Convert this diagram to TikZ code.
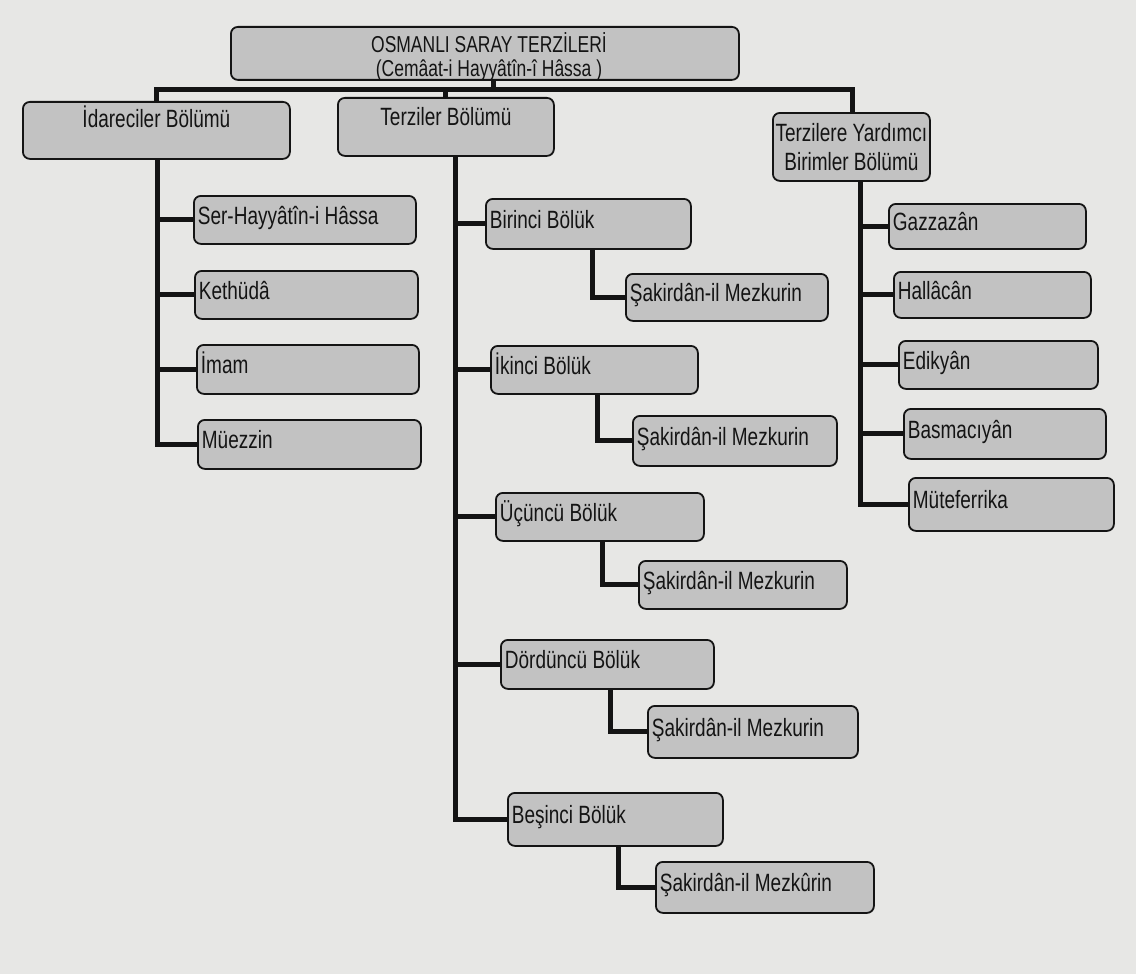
\documentclass[tikz,border=0pt]{standalone}
\usepackage{fontspec}
\setmainfont{Liberation Sans}[FakeStretch=0.76]
\definecolor{pagebg}{RGB}{231,231,229}
\definecolor{boxfill}{RGB}{194,194,194}
\definecolor{inkc}{RGB}{20,20,20}
\begin{document}
\begin{tikzpicture}[x=1pt,y=-1pt,
  execute at begin node={\spaceskip=0.21em\relax},
  conn/.style={line width=5pt, line join=miter, draw=inkc},
  box/.style={draw=inkc, line width=1.8pt, rounded corners=7pt, fill=boxfill, text=inkc,
    font=\fontsize{25}{29}\selectfont, inner sep=0pt, anchor=north west},
  leaf/.style={box, inner xsep=4pt, align=left, text height=18pt, text depth=9pt},
  head/.style={box, align=center}]
\fill[pagebg] (0,0) rectangle (1136,974);
\useasboundingbox (0,0) rectangle (1136,974);

% top
\node[box, minimum width=508pt, minimum height=53pt] (top) at (230,26) {};
\node[text=inkc, font=\fontsize{23}{24}\selectfont, align=center, inner sep=0pt] (toptxt) at (489,57)
  {OSMANLI SARAY TERZİLERİ\\(Cemâat-i Hayyâtîn-î Hâssa )};

% departments
\node[head, minimum width=267pt, minimum height=57pt, text height=8pt, text depth=14pt] (idr) at (22,101) {İdareciler Bölümü};
\node[head, minimum width=216pt, minimum height=58pt, text height=9pt, text depth=12pt] (ter) at (337,97) {Terziler Bölümü};
\node[head, minimum width=157pt, minimum height=68pt, font=\fontsize{25}{29}\selectfont] (tyb) at (772,112) {Terzilere Yardımcı\\Birimler Bölümü};

% left column
\node[leaf, text width=214pt, minimum height=48pt] (ser)  at (193,195) {Ser-Hayyâtîn-i Hâssa};
\node[leaf, text width=215pt, minimum height=48pt] (keth) at (194,270) {Kethüdâ};
\node[leaf, text width=214pt, minimum height=49pt] (imam) at (196,344) {İmam};
\node[leaf, text width=215pt, minimum height=49pt] (muez) at (197,419) {Müezzin};

% middle column
\node[leaf, text width=197pt, minimum height=50pt] (b1) at (485,198) {Birinci Bölük};
\node[leaf, text width=194pt, minimum height=47pt] (s1) at (625,273) {Şakirdân-il Mezkurin};
\node[leaf, text width=199pt, minimum height=48pt] (b2) at (490,345) {İkinci Bölük};
\node[leaf, text width=196pt, minimum height=50pt] (s2) at (632,415) {Şakirdân-il Mezkurin};
\node[leaf, text width=200pt, minimum height=48pt] (b3) at (495,492) {Üçüncü Bölük};
\node[leaf, text width=200pt, minimum height=48pt] (s3) at (638,560) {Şakirdân-il Mezkurin};
\node[leaf, text width=205pt, minimum height=49pt] (b4) at (500,639) {Dördüncü Bölük};
\node[leaf, text width=202pt, minimum height=52pt] (s4) at (647,705) {Şakirdân-il Mezkurin};
\node[leaf, text width=207pt, minimum height=53pt] (b5) at (507,792) {Beşinci Bölük};
\node[leaf, text width=210pt, minimum height=51pt] (s5) at (655,861) {Şakirdân-il Mezkûrin};

% right column
\node[leaf, text width=189pt, minimum height=45pt] (gaz) at (888,203) {Gazzazân};
\node[leaf, text width=189pt, minimum height=46pt] (hal) at (893,271) {Hallâcân};
\node[leaf, text width=191pt, minimum height=48pt] (edi) at (898,340) {Edikyân};
\node[leaf, text width=194pt, minimum height=50pt] (bas) at (903,408) {Basmacıyân};
\node[leaf, text width=197pt, minimum height=53pt] (mut) at (908,477) {Müteferrika};

% bus
\coordinate (busL) at (156,90);
\coordinate (busR) at (852,90);
\coordinate (tdrop) at (493,90);
\draw[conn] (top.south -| tdrop) -- (tdrop);
\draw[conn] (idr.north -| busL) -- (busL) -- (busR) -- (tyb.north -| busR);
\draw[conn] (ter.north) -- (ter.north |- busL);

% left trunk
\coordinate (lt) at (157,0);
\draw[conn] (idr.south -| lt) |- (muez.west);
\foreach \n in {ser,keth,imam} \draw[conn] (\n.west -| lt) -- (\n.west);

% middle trunk
\coordinate (mt) at (455,0);
\draw[conn] (ter.south -| mt) |- (b5.west);
\foreach \n in {b1,b2,b3,b4} \draw[conn] (\n.west -| mt) -- (\n.west);
\draw[conn] ([xshift=107pt]b1.south west) |- (s1.west);
\draw[conn] ([xshift=107pt]b2.south west) |- (s2.west);
\draw[conn] ([xshift=107pt]b3.south west) |- (s3.west);
\draw[conn] ([xshift=110pt]b4.south west) |- (s4.west);
\draw[conn] ([xshift=111pt]b5.south west) |- (s5.west);

% right trunk
\coordinate (rt) at (860,0);
\draw[conn] (tyb.south -| rt) |- (mut.west);
\foreach \n in {gaz,hal,edi,bas} \draw[conn] (\n.west -| rt) -- (\n.west);
\end{tikzpicture}
\end{document}
